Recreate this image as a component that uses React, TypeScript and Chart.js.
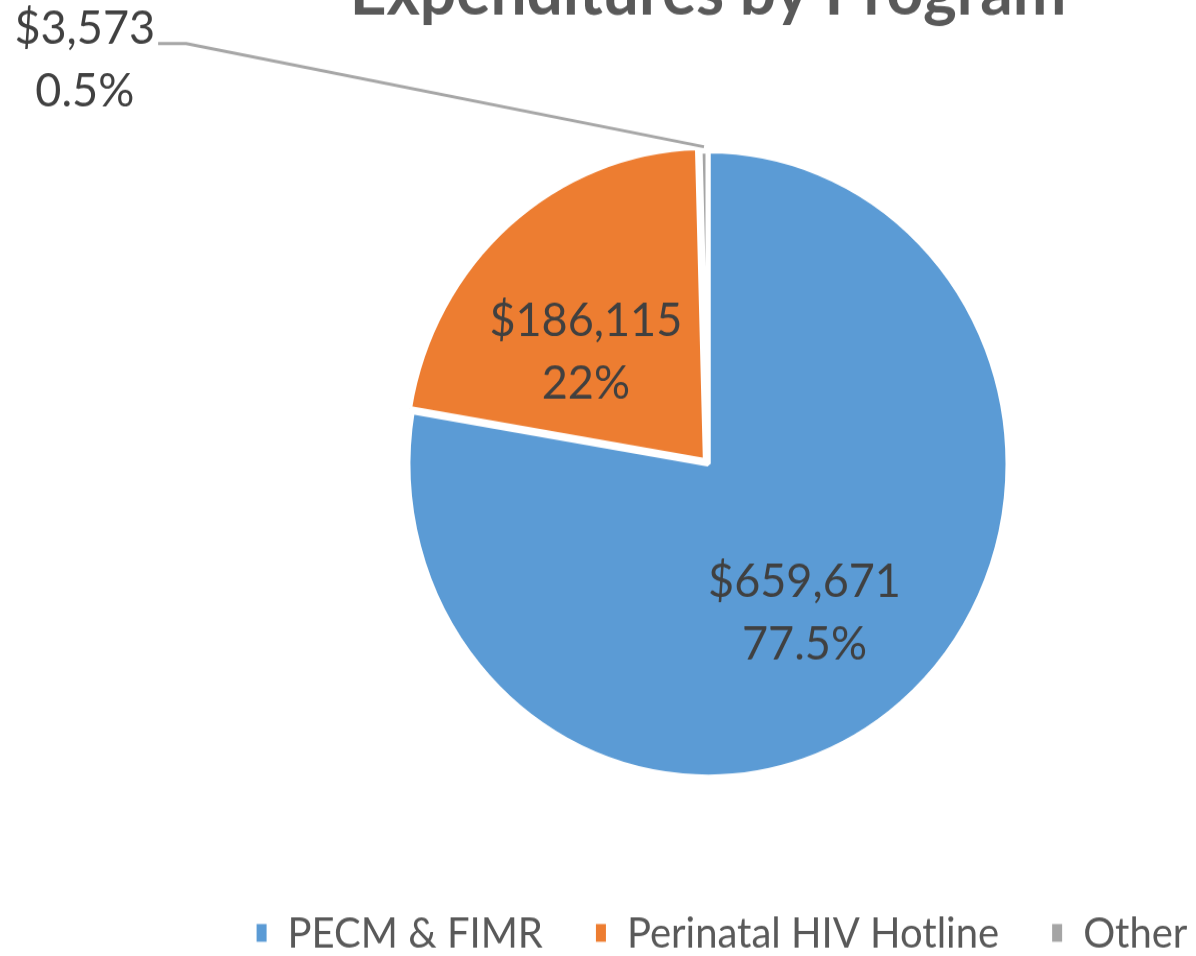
import React, { useEffect, useRef } from "react";
import { Chart, registerables } from "chart.js";

Chart.register(...registerables);

// ---- data ----
const categories = ["PECM & FIMR", "Perinatal HIV Hotline", "Other"];
const expenditures = [659671, 186115, 3573];
const percentLabels = ["77.5%", "22%", "0.5%"];
const sliceColors = ["#5B9BD5", "#ED7D31", "#A5A5A5"];
const titleText = "Expenditures by Program";

// ---- layout / style ----
const FONT = "Lato, 'Noto Sans', sans-serif";
const CANVAS_W = 1196;
const CANVAS_H = 1000;
const STRETCH_Y = 956 / 916;
const SHIFT_UP = 47;
const PIE_RADIUS = 300;
const BORDER_W = 5;
const LABEL_FONT = 45;
const LABEL_LINE_GAP = 59.4;
const LEGEND_FONT = 40;
const LEGEND_BOX_W = 10;
const LEGEND_BOX_H = 17;
const LEGEND_TEXT_GAP = 21;
const LEGEND_ITEM_GAP = 53;
const LEGEND_CENTER_SHIFT = 14;
const LEGEND_Y_FROM_AREA = 36.5;
const LABEL_PLACEMENT = [
  { frac: 0.58, shiftDeg: 6.2 },
  { frac: 0.546, shiftDeg: -7.8 },
  { frac: 2.466, shiftDeg: -57.4 },
];

const sliceLabels = {
  id: "sliceLabels",
  afterDatasetsDraw(chart: any) {
    const ctx = chart.ctx;
    const meta = chart.getDatasetMeta(0);
    const values = chart.data.datasets[0].data as number[];
    ctx.save();
    ctx.font = `${LABEL_FONT}px ${FONT}`;
    ctx.fillStyle = "#404040";
    ctx.textAlign = "center";
    ctx.textBaseline = "middle";
    meta.data.forEach((arc: any, i: number) => {
      const { x, y, startAngle, endAngle, outerRadius } = arc.getProps(
        ["x", "y", "startAngle", "endAngle", "outerRadius"],
        true
      );
      const p = LABEL_PLACEMENT[i];
      const half = (startAngle + endAngle) / 2;
      const ang = half + (p.shiftDeg * Math.PI) / 180;
      const r = (outerRadius - BORDER_W / 2) * p.frac;
      const cx = x + Math.cos(ang) * r;
      const cy = y + Math.sin(ang) * r;
      const line1 = "$" + values[i].toLocaleString("en-US");
      const line2 = percentLabels[i];
      ctx.fillText(line1, cx, cy - LABEL_LINE_GAP / 2);
      ctx.fillText(line2, cx, cy + LABEL_LINE_GAP / 2);
      if (p.frac > 1) {
        const w = ctx.measureText(line1).width;
        const sx = cx + w / 2 + 3;
        const sy = cy - LABEL_LINE_GAP / 2 + 14;
        const ex = x + Math.cos(half) * (outerRadius + 4);
        const ey = y + Math.sin(half) * (outerRadius + 4);
        ctx.beginPath();
        ctx.strokeStyle = "#A6A6A6";
        ctx.lineWidth = 3;
        ctx.moveTo(sx, sy);
        ctx.lineTo(sx + 28, sy);
        ctx.lineTo(ex, ey);
        ctx.stroke();
      }
    });
    ctx.restore();
  },
};

const bottomLegend = {
  id: "bottomLegend",
  afterDraw(chart: any) {
    const ctx = chart.ctx;
    const area = chart.chartArea;
    ctx.save();
    ctx.font = `${LEGEND_FONT}px ${FONT}`;
    const labels = chart.data.labels as string[];
    const colors = chart.data.datasets[0].backgroundColor as string[];
    const widths = labels.map((t) => ctx.measureText(t).width);
    const itemW = widths.map((w) => LEGEND_BOX_W + LEGEND_TEXT_GAP + w);
    const total =
      itemW.reduce((a, b) => a + b, 0) + LEGEND_ITEM_GAP * (labels.length - 1);
    let x = (area.left + area.right) / 2 + LEGEND_CENTER_SHIFT - total / 2;
    const y = area.bottom + LEGEND_Y_FROM_AREA;
    ctx.textBaseline = "middle";
    ctx.textAlign = "left";
    labels.forEach((t, i) => {
      ctx.fillStyle = colors[i];
      ctx.fillRect(x, y - LEGEND_BOX_H / 2, LEGEND_BOX_W, LEGEND_BOX_H);
      ctx.fillStyle = "#595959";
      ctx.fillText(t, x + LEGEND_BOX_W + LEGEND_TEXT_GAP, y + 1);
      x += itemW[i] + LEGEND_ITEM_GAP;
    });
    ctx.restore();
  },
};

export default function App() {
  const canvasRef = useRef<HTMLCanvasElement | null>(null);

  useEffect(() => {
    if (!canvasRef.current) return;
    const chart = new Chart(canvasRef.current, {
      type: "pie",
      data: {
        labels: categories,
        datasets: [
          {
            data: expenditures,
            backgroundColor: sliceColors,
            borderColor: "#FFFFFF",
            borderWidth: BORDER_W,
            offset: [0, 16, 0],
            radius: PIE_RADIUS,
          } as any,
        ],
      },
      options: {
        responsive: false,
        animation: false,
        layout: { padding: { left: 220, right: 0, top: 0, bottom: 97.6 } },
        plugins: {
          legend: { display: false },
          tooltip: { enabled: false },
          title: {
            display: true,
            text: titleText,
            color: "#595959",
            font: { family: FONT, size: 64, weight: "bold" },
            padding: { top: 0, bottom: 0 },
          },
        },
      },
      plugins: [sliceLabels, bottomLegend],
    });
    return () => chart.destroy();
  }, []);

  return (
    <div
      style={{
        position: "fixed",
        left: 0,
        top: 0,
        width: 1196,
        height: 956,
        overflow: "hidden",
        background: "#FFFFFF",
      }}
    >
      <div
        style={{
          position: "absolute",
          left: 0,
          top: -SHIFT_UP,
          width: CANVAS_W,
          height: CANVAS_H,
          transform: `scaleY(${STRETCH_Y})`,
          transformOrigin: "top left",
        }}
      >
        <canvas
          ref={canvasRef}
          width={CANVAS_W}
          height={CANVAS_H}
          style={{ display: "block" }}
        />
      </div>
    </div>
  );
}
